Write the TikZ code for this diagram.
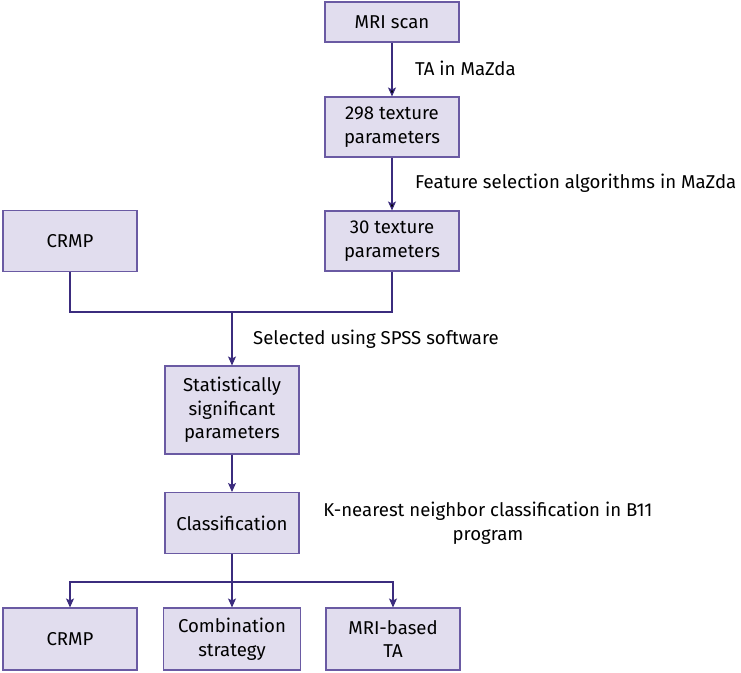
\documentclass[tikz,border=0pt]{standalone}
\usepackage{fontspec}
\setmainfont{Fira Sans}
\usepackage{xcolor}
\usetikzlibrary{positioning, arrows.meta}

\definecolor{boxfill}{HTML}{E1DDEE}
\definecolor{boxline}{HTML}{6A5AA3}
\definecolor{flowline}{HTML}{3B2C7E}

\tikzset{
  stage/.style={draw=boxline, fill=boxfill, line width=1.1pt, align=center,
                inner sep=2pt, minimum width=134pt, font=\fontsize{18.6}{23.5}\selectfont},
  note/.style={anchor=west, inner sep=0pt, font=\fontsize{18.6}{24}\selectfont}
}

\begin{document}
\begin{tikzpicture}[x=1pt, y=-1pt, >={Stealth[length=9pt, width=8pt, inset=2pt]},
                    flow/.style={draw=flowline, line width=1.1pt}]
    \useasboundingbox (0,0) rectangle (741,672);
    \node[stage, minimum height=40pt] (mri) at (392,22) {MRI scan};
    \node[stage, minimum height=60pt] (tex298) at (392,127) {298 texture\\parameters};
    \node[stage, minimum height=60pt] (tex30) at (392,241) {30 texture\\parameters};
    \node[stage, minimum height=61pt] (crmp) at (70,241) {CRMP};
    \node[stage, minimum height=88pt] (stat) at (232,410) {Statistically\\significant\\parameters};
    \node[stage, minimum height=61pt] (clas) at (232,523) {Classification};
    \node[stage, minimum height=62pt] (crmpout) at (70,639) {CRMP};
    \node[stage, minimum height=62pt, minimum width=137pt] (comb) at (232,639) {Combination\\strategy};
    \node[stage, minimum height=62pt] (mrita) at (393,639) {MRI-based\\TA};
    \coordinate (join) at (232,312);
    \coordinate (split) at (232,582);
    \node[note] (lta) at (415,68) {TA in MaZda};
    \node[note] (lfeat) at (415,183) {Feature selection algorithms in MaZda};
    \node[note] (lspss) at (253,339) {Selected using SPSS software};
    \node[note, anchor=center, align=center] (lknn) at (488,523)
      {K-nearest neighbor classification in B11\\program};
    \path[flow, ->]
      (mri) edge (tex298)
      (tex298) edge (tex30);
    \draw[flow] (crmp.south) |- (join) -| (tex30.south);
    \draw[flow, ->] (join) -- (stat);
    \draw[flow, ->] (stat) -- (clas);
    \draw[flow] (clas) -- (split);
    \draw[flow, ->] (split) -| (crmpout.north);
    \draw[flow, ->] (split) -| (mrita.north);
    \draw[flow, ->] (split) -- (comb);
  \end{tikzpicture}
\end{document}
